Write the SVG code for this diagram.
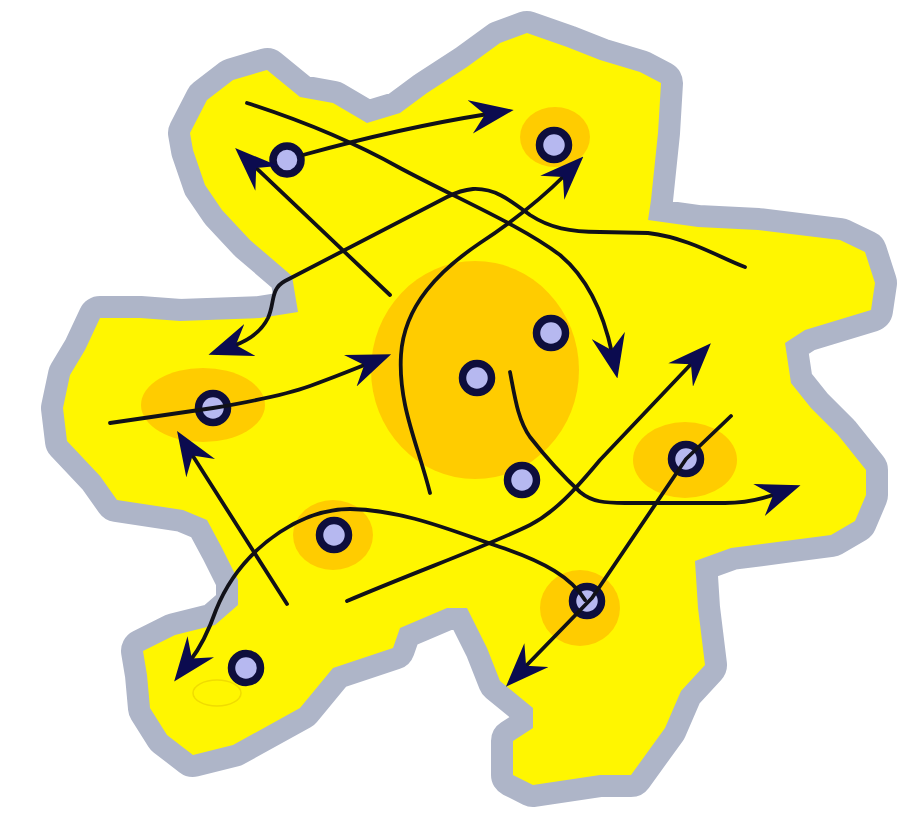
<svg xmlns="http://www.w3.org/2000/svg" width="898" height="816" viewBox="0 0 898 816">
<style>
.edge{fill:none;stroke:#111118;stroke-width:3.8;stroke-linecap:round;stroke-linejoin:round;marker-end:url(#ah)}
.node circle{fill:#b6b8f0;stroke:#0e0e3c;stroke-width:7.5}
.patch{fill:#ffcc00}
</style>
<defs>
<marker id="ah" viewBox="0 0 44 34" markerWidth="44" markerHeight="34" refX="18" refY="17" orient="auto" markerUnits="userSpaceOnUse"><path d="M0,0 L44,17 L0,34 L15,17 Z" fill="#0b0b4f"/></marker>
<path id="blob" d="M267,70 L300,97 L333,103 L367,123 L400,113 L427,93 L467,67 L500,43 L527,33 L567,47 L600,60 L640,72 L661,83 L658,133 L651,200 L648,220 L698,227 L758,230 L840,240 L865,252 L875,283 L871,310 L805,330 L785,343 L791,383 L811,408 L838,435 L866,470 L866,495 L855,521 L831,535 L785,541 L731,548 L695,561 L698,608 L705,665 L681,691 L665,728 L631,775 L600,775 L533,785 L513,775 L513,741 L533,728 L533,708 L500,681 L487,648 L467,608 L447,608 L400,628 L393,648 L333,668 L300,708 L233,745 L193,755 L167,735 L150,708 L147,675 L143,651 L175,635 L215,625 L238,605 L238,580 L222,548 L207,520 L183,510 L117,500 L100,476 L67,441 L63,408 L70,375 L85,350 L100,318 L140,318 L180,321 L260,318 L298,312 L292,276 L250,240 L222,210 L205,185 L193,150 L190,133 L207,100 L233,80 Z"/>
</defs>
<rect width="898" height="816" fill="#ffffff"/>
<g id="region">
<use href="#blob" fill="#aeb5c8" stroke="#aeb5c8" stroke-width="44" stroke-linejoin="round"/>
<use href="#blob" fill="#fff600"/>
<ellipse class="patch" cx="475" cy="370" rx="104" ry="109"/>
<ellipse class="patch" cx="555" cy="137" rx="35" ry="30"/>
<ellipse class="patch" cx="203" cy="405" rx="62" ry="37"/>
<ellipse class="patch" cx="685" cy="460" rx="52" ry="38"/>
<ellipse class="patch" cx="333" cy="535" rx="40" ry="35"/>
<ellipse class="patch" cx="580" cy="608" rx="40" ry="38"/>
<ellipse cx="217" cy="693" rx="24" ry="13" fill="none" stroke="#f0dc00" stroke-width="1.5"/>
</g>
<g id="n1" class="node"><circle cx="287" cy="160" r="14"/></g>
<g id="n2" class="node"><circle cx="554" cy="145" r="14.5"/></g>
<g id="n3" class="node"><circle cx="551" cy="333" r="14.5"/></g>
<g id="n4" class="node"><circle cx="477" cy="378" r="14.5"/></g>
<g id="n5" class="node"><circle cx="522" cy="480" r="14.5"/></g>
<g id="n6" class="node"><circle cx="686" cy="459" r="14.5"/></g>
<g id="n7" class="node"><circle cx="213" cy="408" r="14.5"/></g>
<g id="n8" class="node"><circle cx="334" cy="535" r="14.5"/></g>
<g id="n9" class="node"><circle cx="587" cy="601" r="14.5"/></g>
<g id="n10" class="node"><circle cx="246" cy="668" r="14.5"/></g>
<g id="connectors">
<path class="edge" d="M303,155 Q400,128 488,114"/>
<path class="edge" d="M390,295 L254,166"/>
<path class="edge" d="M745,267 C720,258 690,238 648,233 L600,232 C570,232 550,228 530,215 C510,200 495,188 473,189 C462,190 455,193 447,197 L285,281 C270,289 275,303 268,318 C262,330 250,340 233,346"/>
<path class="edge" d="M110,423 L213,408 C255,401 285,395 310,386 C335,377 352,370 367,364"/>
<path class="edge" d="M430,493 C418,445 398,405 401,355 C404,305 440,270 480,243 C515,220 545,195 565,175"/>
<path class="edge" d="M247,103 C300,120 350,140 400,168 C460,200 520,225 560,255 C590,280 605,320 612,353"/>
<path class="edge" d="M347,601 C420,570 490,545 530,525 C555,512 575,490 600,460 L693,362"/>
<path class="edge" d="M731,416 L686,459 L592,598 L524,668"/>
<path class="edge" d="M510,372 C515,398 518,420 530,437 C548,460 565,478 580,492 C592,502 605,503 625,503 L725,503 C745,503 762,499 776,494"/>
<path class="edge" d="M585,600 C572,578 545,562 500,547 C455,532 405,510 350,509 C320,509 298,520 280,532 C250,552 228,580 216,610 C209,630 200,648 190,661"/>
<path class="edge" d="M287,604 L191,453"/>
</g>
</svg>
